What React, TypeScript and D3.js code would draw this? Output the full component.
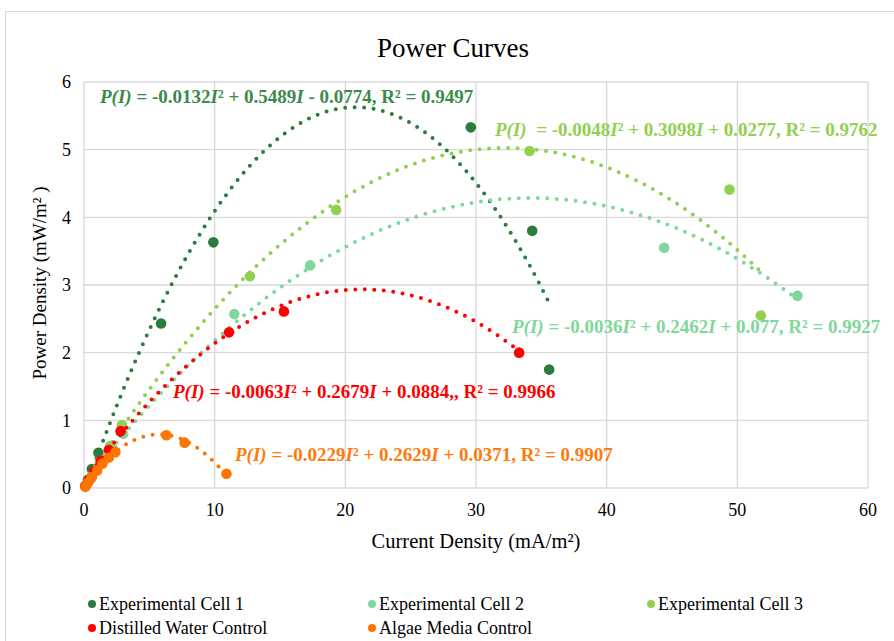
import { useMemo } from "react";
import * as d3 from "d3";

const WIDTH = 894;
const HEIGHT = 641;
const MARGIN = { top: 82, right: 26, bottom: 153, left: 84 };
const FONT = "'Liberation Serif', 'Times New Roman', serif";

// series names and colours
const seriesNames = [
  "Experimental Cell 1",
  "Experimental Cell 2",
  "Experimental Cell 3",
  "Distilled Water Control",
  "Algae Media Control",
];
const seriesColors = ["#2a7d3f", "#7fd89b", "#92d050", "#ff0000", "#ff7400"];
const labelColors = ["#3a8a4a", "#7fd89b", "#92d050", "#ff0000", "#ff7a0a"];

// measured points (current density mA/m2, power density mW/m2)
const cell1X = [0.1, 0.3, 0.6, 1.1, 5.9, 9.9, 29.6, 34.3, 35.6];
const cell1Y = [0.03, 0.12, 0.28, 0.52, 2.43, 3.63, 5.33, 3.8, 1.75];
const cell2X = [0.2, 0.5, 1.0, 1.6, 2.2, 3.0, 11.5, 17.3, 44.4, 54.6];
const cell2Y = [0.05, 0.14, 0.28, 0.42, 0.58, 0.8, 2.57, 3.29, 3.55, 2.84];
const cell3X = [0.2, 0.6, 1.2, 2.0, 2.9, 12.7, 19.3, 34.1, 49.4, 51.8];
const cell3Y = [0.06, 0.18, 0.38, 0.62, 0.93, 3.13, 4.11, 4.98, 4.41, 2.55];
const waterX = [0.1, 0.4, 0.8, 1.3, 1.9, 2.8, 11.1, 15.3, 33.3];
const waterY = [0.03, 0.12, 0.25, 0.4, 0.56, 0.84, 2.3, 2.61, 2.0];
const algaeX = [0.1, 0.3, 0.6, 1.0, 1.4, 1.9, 2.4, 6.3, 7.7, 10.9];
const algaeY = [0.02, 0.08, 0.16, 0.26, 0.36, 0.45, 0.53, 0.78, 0.67, 0.21];

// polynomial trendline coefficients P = a I^2 + b I + c
const trendA = [-0.0132, -0.0036, -0.0048, -0.0063, -0.0229];
const trendB = [0.5489, 0.2462, 0.3098, 0.2679, 0.2629];
const trendC = [-0.0774, 0.077, 0.0277, 0.0884, 0.0371];

const equationLabels = [
  "P(I) = -0.0132I² + 0.5489I - 0.0774, R² = 0.9497",
  "P(I) = -0.0036I² + 0.2462I + 0.077, R² = 0.9927",
  "P(I)  = -0.0048I² + 0.3098I + 0.0277, R² = 0.9762",
  "P(I) = -0.0063I² + 0.2679I + 0.0884,, R² = 0.9966",
  "P(I) = -0.0229I² + 0.2629I + 0.0371, R² = 0.9907",
];
// label anchors in pixels (left, baseline)
const labelPos = [
  [100, 103],
  [512, 333],
  [495, 136],
  [173, 398],
  [235, 461],
];

const xTicks = [0, 10, 20, 30, 40, 50, 60];
const yTicks = [0, 1, 2, 3, 4, 5, 6];

const allX = [cell1X, cell2X, cell3X, waterX, algaeX];
const allY = [cell1Y, cell2Y, cell3Y, waterY, algaeY];

function Equation({ text, x, y, color }: { text: string; x: number; y: number; color: string }) {
  const parts = text.split(/(P\(I\)|I(?=[² ,]))/).filter((p) => p !== "");
  return (
    <text x={x} y={y} fill={color} fontSize={19} fontWeight="bold" fontFamily={FONT} xmlSpace="preserve">
      {parts.map((p, i) => (
        <tspan key={i} fontStyle={p === "P(I)" || p === "I" ? "italic" : "normal"}>
          {p}
        </tspan>
      ))}
    </text>
  );
}

export default function App() {
  const boundsW = WIDTH - MARGIN.left - MARGIN.right;
  const boundsH = HEIGHT - MARGIN.top - MARGIN.bottom;

  const xScale = useMemo(() => d3.scaleLinear().domain([0, 60]).range([0, boundsW]), [boundsW]);
  const yScale = useMemo(() => d3.scaleLinear().domain([0, 6]).range([boundsH, 0]), [boundsH]);

  const trendPaths = allX.map((xs, s) => {
    const lo = d3.min(xs) as number;
    const hi = d3.max(xs) as number;
    const pts = d3.range(0, 101).map((k) => {
      const xv = lo + ((hi - lo) * k) / 100;
      return [xv, trendA[s] * xv * xv + trendB[s] * xv + trendC[s]] as [number, number];
    });
    return d3
      .line<[number, number]>()
      .x((d) => xScale(d[0]))
      .y((d) => yScale(d[1]))(pts.filter((d) => d[1] >= 0));
  });

  const legendRows = [
    [0, 1, 2],
    [3, 4],
  ];
  const legendX = [92, 372, 651];
  const legendY = [610, 634];

  return (
    <svg
      width={WIDTH}
      height={HEIGHT}
      style={{ position: "absolute", left: 0, top: 0, background: "#fff" }}
    >
      <rect x={5.5} y={11.5} width={WIDTH} height={HEIGHT} fill="#fff" stroke="#d9d9d9" />
      <text x={453} y={57} textAnchor="middle" fontSize={27} fontFamily={FONT} fill="#000">
        Power Curves
      </text>
      <g transform={`translate(${MARGIN.left},${MARGIN.top})`}>
        {yTicks.map((t) => (
          <g key={"y" + t}>
            <line x1={0} x2={boundsW} y1={yScale(t)} y2={yScale(t)} stroke="#d9d9d9" strokeWidth={1.3} />
            <text
              x={-13}
              y={yScale(t)}
              dy="0.35em"
              textAnchor="end"
              fontSize={18}
              fontFamily={FONT}
              fill="#000"
            >
              {t}
            </text>
          </g>
        ))}
        {xTicks.map((t) => (
          <g key={"x" + t}>
            <line x1={xScale(t)} x2={xScale(t)} y1={0} y2={boundsH} stroke="#d9d9d9" strokeWidth={1.3} />
            <text x={xScale(t)} y={boundsH + 28} textAnchor="middle" fontSize={18} fontFamily={FONT} fill="#000">
              {t}
            </text>
          </g>
        ))}
        {allX.map((xs, s) => (
          <g key={"s" + s}>
            {xs.map((xv, i) => (
              <circle key={i} cx={xScale(xv)} cy={yScale(allY[s][i])} r={5.3} fill={seriesColors[s]} />
            ))}
            <path
              d={trendPaths[s] || ""}
              fill="none"
              stroke={seriesColors[s]}
              strokeWidth={4}
              strokeLinecap="round"
              strokeDasharray="0 9.5"
            />
          </g>
        ))}
      </g>
      {equationLabels.map((t, i) => (
        <Equation key={i} text={t} x={labelPos[i][0]} y={labelPos[i][1]} color={labelColors[i]} />
      ))}
      <text x={476} y={548} textAnchor="middle" fontSize={20.5} fontFamily={FONT} fill="#000">
        Current Density (mA/m²)
      </text>
      <text
        transform="translate(46,283) rotate(-90)"
        textAnchor="middle"
        fontSize={19}
        fontFamily={FONT}
        fill="#000"
      >
        Power Density (mW/m² )
      </text>
      {legendRows.map((row, r) =>
        row.map((s, c) => (
          <g key={s} transform={`translate(${legendX[c]},${legendY[r]})`}>
            <circle cx={0} cy={-6} r={4} fill={seriesColors[s]} />
            <text x={7} y={0} fontSize={18} fontFamily={FONT} fill="#000">
              {seriesNames[s]}
            </text>
          </g>
        ))
      )}
    </svg>
  );
}
